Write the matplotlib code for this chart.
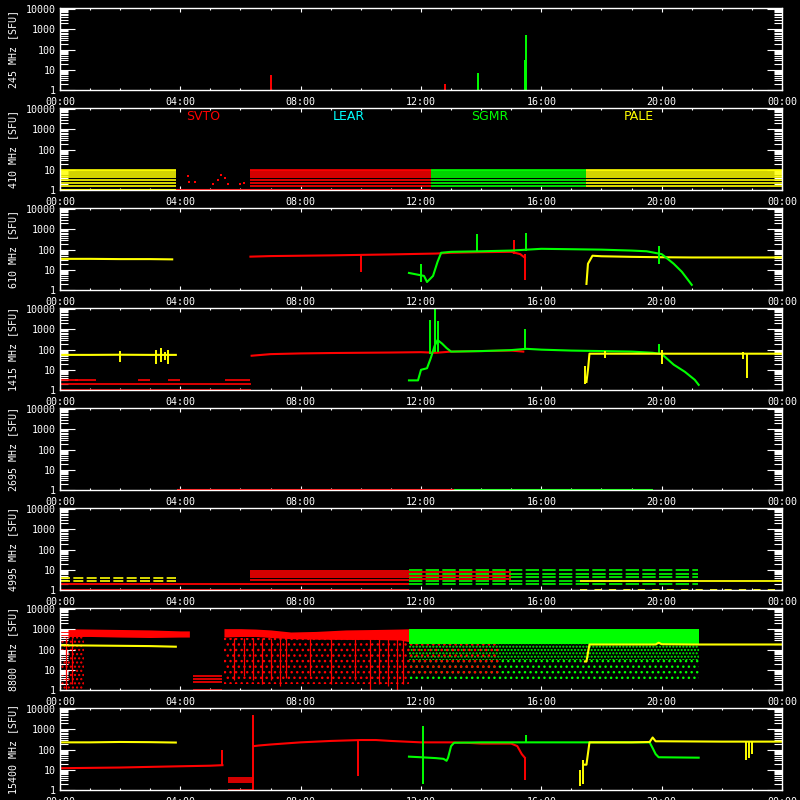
import numpy as np
import matplotlib
matplotlib.use("Agg")
import matplotlib.pyplot as plt
from matplotlib.ticker import LogLocator, MultipleLocator, NullFormatter, FixedLocator

plt.rcParams['font.family'] = ['DejaVu Sans Mono']
plt.rcParams['hatch.linewidth'] = 1.0

RED, YEL, GRN, CYN = '#ff0000', '#ffff00', '#00ff00', '#00ffff'

# ---------------- labels ----------------
FREQS = ['245', '410', '610', '1415', '2695', '4995', '8800', '15400']
XTICK_HOURS = [0, 4, 8, 12, 16, 20, 24]
XTICK_LABELS = ['00:00', '04:00', '08:00', '12:00', '16:00', '20:00', '00:00']
YTICKS = [1, 10, 100, 1000, 10000]
YTICK_LABELS = ['1', '10', '100', '1000', '10000']
STATIONS = ['SVTO', 'LEAR', 'SGMR', 'PALE']
STATION_HOUR = [4.77, 9.6, 14.27, 19.23]

# ---------------- 245 MHz ----------------
S245_RED_T = [7.0, 12.8]
S245_RED_V = [5.6, 2.0]
S245_GRN_T = [13.9, 15.45, 15.5]
S245_GRN_V = [7.0, 30.0, 550.0]

# ---------------- 410 MHz ----------------
B410_LEVELS = [10, 8.3, 7.0, 5.6, 4.3, 3.2, 2.2, 1.5]
B410_YEL1 = [0.0, 3.87]
B410_RED = [6.33, 12.33]
B410_GRN = [12.33, 17.5]
B410_YEL2 = [17.5, 24.0]
P410_RED_T = [4.25, 4.3, 4.5, 5.1, 5.25, 5.35, 5.5, 5.6, 6.0, 6.1]
P410_RED_V = [5.0, 2.5, 2.5, 2.0, 3.0, 5.5, 4.0, 2.0, 2.0, 2.3]

# ---------------- 610 MHz ----------------
Y610A_T = [0.0, 1.0, 2.0, 3.0, 3.73]
Y610A_V = [35, 35, 34, 34, 33]
R610_T = [6.33, 7.0, 8.0, 9.0, 10.0, 11.0, 12.0, 12.5, 13.0, 14.0, 15.0, 15.3, 15.45]
R610_V = [45, 48, 50, 52, 55, 58, 62, 64, 70, 75, 78, 60, 40]
G610_T = [11.6, 12.1, 12.2, 12.4, 12.55, 12.67, 13.0, 14.0, 15.0, 16.0, 17.0,
          18.0, 19.0, 19.5, 20.0, 20.1, 20.4, 20.67, 21.0]
G610_V = [7, 5, 2.5, 5, 25, 70, 78, 83, 90, 110, 105, 100, 90, 83, 60, 46, 20, 8, 1.8]
Y610B_T = [17.5, 17.55, 17.7, 18.0, 19.0, 20.0, 21.0, 22.0, 23.0, 24.0]
Y610B_V = [2, 20, 50, 47, 44, 42, 41, 41, 41, 41]
SP610_GRN_T = [12.0, 13.87, 15.5, 19.9]
SP610_GRN_V = [20, 600, 700, 150]
SP610_RED_T = [10.0, 15.1, 15.45]
SP610_RED_LO = [8, 60, 3]
SP610_RED_HI = [55, 300, 60]

# ---------------- 1415 MHz ----------------
Y1415A_T = [0.0, 1.0, 2.0, 3.0, 3.85]
Y1415A_V = [55, 55, 56, 55, 55]
SP1415_YEL_T = [2.0, 3.2, 3.35, 3.5, 3.6]
SP1415_YEL_LO = [25, 20, 25, 30, 20]
SP1415_YEL_HI = [90, 100, 120, 80, 100]
R1415_T = [6.37, 7.0, 8.0, 9.0, 10.0, 11.0, 12.0, 12.5, 13.0, 14.0, 15.0, 15.4]
R1415_V = [50, 60, 65, 68, 70, 72, 75, 70, 80, 85, 90, 80]
R1415_LOW_T0 = [0.0, 0.5, 2.6, 3.6, 5.5]
R1415_LOW_T1 = [0.6, 1.2, 3.0, 4.0, 6.3]
R1415_LOW_V = [3.2, 3.2, 3.2, 3.2, 3.2]
G1415_T = [11.6, 11.9, 12.0, 12.2, 12.33, 12.45, 12.55, 12.7, 12.85, 13.0, 14.0, 15.0,
           15.5, 16.0, 17.0, 18.0, 19.0, 19.7, 20.0, 20.1, 20.4, 20.77, 21.1, 21.23]
G1415_V = [3, 3, 10, 12, 40, 150, 300, 200, 120, 80, 85, 95, 110, 100, 90, 85, 80,
           70, 60, 45, 18, 8, 3.2, 1.8]
SP1415_GRN_T = [12.3, 12.45, 12.55, 15.45, 19.9]
SP1415_GRN_HI = [3000, 10000, 2500, 1000, 200]
Y1415B_T = [17.5, 17.55, 17.6, 18.0, 20.0, 22.0, 24.0]
Y1415B_V = [2.5, 10, 63, 63, 63, 63, 63]
SP1415_YEL2_T = [17.45, 18.1, 20.0, 22.7, 22.85]
SP1415_YEL2_LO = [2, 40, 20, 35, 4]
SP1415_YEL2_HI = [15, 90, 100, 80, 60]

# ---------------- 2695 MHz ----------------
B2695_RED = [3.9, 13.1]
B2695_GRN = [13.1, 19.7]

# ---------------- 4995 MHz ----------------
Y4995A_LEVELS = [3.8, 2.9]
Y4995A = [0.0, 3.87]
R4995_BASE = [0.0, 11.6]
R4995_BASE_V = 1.9
R4995_BAND = [6.33, 11.6]
R4995_LEVELS = [9.2, 7.3, 5.6, 4.3, 3.2]
R4995_MIX = [11.6, 15.0]
R4995_MIX_LEVELS = [8.0, 5.2, 3.4]
G4995_BAND = [11.6, 21.2]
G4995_LEVELS = [10, 6.5, 4.3, 2.7, 2.0]
Y4995B = [17.3, 24.0]
Y4995B_V = 2.9

# ---------------- 8800 MHz ----------------
R8800A_T = [0.0, 1.0, 2.0, 3.0, 4.0, 4.3]
R8800A_LO = [450, 450, 420, 400, 420, 420]
R8800A_HI = [1100, 1050, 1000, 950, 850, 850]
R8800B_T = [5.45, 6.0, 6.5, 7.0, 7.67, 8.5, 9.5, 10.5, 11.3, 11.8]
R8800B_LO = [420, 450, 450, 400, 350, 330, 320, 320, 300, 220]
R8800B_HI = [1100, 1100, 1050, 950, 750, 800, 950, 1000, 1050, 1100]
R8800_LOWBAND = [4.43, 5.4]
R8800_LOW_LEVELS = [5.0, 3.5, 2.5, 1.05]
R8800_SCAT_T = [0.0, 0.8]
R8800_SCAT2_T = [5.45, 11.6]
R8800_STREAK_T = [0.2, 0.4, 5.8, 6.1, 6.4, 6.7, 7.0, 7.3, 7.5, 8.3, 9.0, 9.8, 10.3, 10.6, 10.9, 11.2, 11.4]
R8800_STREAK_LO = [1, 2, 3, 5, 3, 2, 3, 1.5, 4, 5, 2, 3, 1, 2, 1.5, 1, 2]
G8800_T = [11.6, 21.23]
G8800_LO = 200
G8800_HI = 1100
G8800_SCAT1 = [30, 200]
G8800_SCAT2 = [3, 30]
R8800_MIX_T = [11.6, 14.6]
R8800_MIX = [5, 300]
Y8800A_T = [0.0, 1.0, 2.0, 3.0, 3.85]
Y8800A_V = [165, 160, 155, 150, 140]
Y8800B_T = [17.45, 17.5, 17.6, 18.0, 19.0, 19.8, 19.9, 20.0, 21.0, 22.0, 23.0, 24.0]
Y8800B_V = [26, 26, 180, 180, 180, 180, 220, 185, 180, 180, 180, 180]

# ---------------- 15400 MHz ----------------
Y15400A_T = [0.0, 1.0, 2.0, 3.0, 3.85]
Y15400A_V = [230, 230, 240, 235, 225]
R15400A_T = [0.0, 1.0, 2.0, 3.0, 4.0, 5.0, 5.4]
R15400A_V = [12, 12.5, 13, 14, 15, 16, 17]
R15400_LOWBAND = [5.6, 6.4]
R15400_LOW_LEVELS = [4.0, 3.0, 2.5, 1.05]
R15400B_T = [6.45, 6.6, 7.0, 8.0, 9.0, 10.0, 10.5, 11.0, 12.0, 13.0, 13.5, 14.0, 15.0, 15.2, 15.35, 15.45]
R15400B_V = [150, 160, 180, 230, 270, 300, 300, 270, 230, 230, 220, 200, 200, 150, 60, 40]
SP15400_RED_T = [5.4, 6.4, 9.9, 15.45]
SP15400_RED_LO = [17, 1, 5, 3]
SP15400_RED_HI = [100, 5000, 300, 40]
G15400_T = [11.6, 12.0, 12.5, 12.75, 12.85, 12.9, 13.0, 13.1, 14.0, 15.0, 16.0, 17.0,
            18.0, 19.0, 19.6, 19.7, 19.8, 19.9, 21.23]
G15400_V = [45, 42, 38, 35, 28, 40, 150, 220, 230, 230, 230, 230, 230, 230, 230,
            120, 60, 42, 40]
SP15400_GRN_T = [12.05, 15.5]
SP15400_GRN_LO = [2, 230]
SP15400_GRN_HI = [1500, 560]
Y15400B_T = [17.45, 17.5, 17.6, 18.0, 19.0, 19.6, 19.7, 19.8, 20.0, 21.0, 22.0, 23.0, 24.0]
Y15400B_V = [18, 18, 230, 230, 230, 240, 400, 260, 260, 255, 250, 250, 250]
SP15400_YEL_T = [17.3, 17.4, 22.8, 22.9, 23.0]
SP15400_YEL_LO = [1.5, 2, 30, 40, 60]
SP15400_YEL_HI = [10, 30, 250, 250, 250]

LW = 1.5
BASE = 1.05

fig = plt.figure(figsize=(8, 8), dpi=100, facecolor='black')
axes = []
for i, f in enumerate(FREQS):
    bot = 90 + 100 * i
    ax = fig.add_axes([60 / 800, 1 - bot / 800, 722 / 800, 82 / 800], facecolor='black')
    ax.set_xlim(0, 24)
    ax.set_yscale('log')
    ax.set_ylim(1, 11600)
    for s in ax.spines.values():
        s.set_color('white')
        s.set_linewidth(1.0)
        s.set_zorder(5)
    ax.xaxis.set_major_locator(FixedLocator(XTICK_HOURS))
    ax.set_xticklabels(XTICK_LABELS)
    ax.xaxis.set_minor_locator(MultipleLocator(1))
    ax.yaxis.set_major_locator(FixedLocator(YTICKS))
    ax.set_yticklabels(YTICK_LABELS)
    ax.yaxis.set_minor_locator(LogLocator(base=10, subs=np.arange(2, 10), numticks=20))
    ax.yaxis.set_minor_formatter(NullFormatter())
    ax.tick_params(axis='x', which='major', direction='in', length=3, width=0.8,
                   color='white', top=True, bottom=True, labelcolor='white',
                   labelsize=7.2, pad=5)
    ax.tick_params(axis='x', which='minor', direction='in', length=1.5, width=0.8,
                   color='white', top=True, bottom=True)
    ax.tick_params(axis='y', which='major', direction='in', length=11, width=0.8,
                   color='white', left=True, right=True, labelcolor='white',
                   labelsize=7.2, pad=3)
    ax.tick_params(axis='y', which='minor', direction='in', length=5.5, width=0.8,
                   color='white', left=True, right=True)
    fig.text(13 / 800, 1 - (bot - 41) / 800, f'{f} MHz [SFU]', color='white',
             rotation=90, ha='center', va='center', fontsize=7.2)
    axes.append(ax)


def bands(ax, span, levels, color, ls='-'):
    ax.hlines(levels, span[0], span[1], colors=color, lw=1.2, linestyles=ls, zorder=2)


def spikes(ax, t, lo, hi, color, lw=1.4):
    ax.vlines(t, lo, hi, colors=color, lw=lw, zorder=3)


# 245
ax = axes[0]
spikes(ax, S245_RED_T, [1] * len(S245_RED_T), S245_RED_V, RED)
spikes(ax, S245_GRN_T, [1] * len(S245_GRN_T), S245_GRN_V, GRN)

# 410
ax = axes[1]
bands(ax, B410_YEL1, B410_LEVELS, YEL)
bands(ax, B410_RED, B410_LEVELS, RED)
bands(ax, B410_GRN, B410_LEVELS, GRN)
bands(ax, B410_YEL2, B410_LEVELS, YEL)
ax.hlines(BASE, B410_YEL1[1], B410_RED[1], colors=RED, lw=LW)
ax.hlines(BASE, B410_YEL1[0], B410_YEL1[1], colors=YEL, lw=LW)
ax.plot(P410_RED_T, P410_RED_V, 's', color=RED, ms=2, mew=0)
for name, col, hr in zip(STATIONS, [RED, CYN, GRN, YEL], STATION_HOUR):
    ax.text(hr, 4300, name, color=col, ha='center', va='center', fontsize=9,
            family='DejaVu Sans')

# 610
ax = axes[2]
ax.plot(Y610A_T, Y610A_V, color=YEL, lw=LW)
ax.plot(R610_T, R610_V, color=RED, lw=LW)
spikes(ax, SP610_RED_T, SP610_RED_LO, SP610_RED_HI, RED)
ax.plot(G610_T, G610_V, color=GRN, lw=LW, zorder=3)
spikes(ax, SP610_GRN_T, np.array(SP610_GRN_V) / 8, SP610_GRN_V, GRN)
ax.plot(Y610B_T, Y610B_V, color=YEL, lw=LW, zorder=2.5)

# 1415
ax = axes[3]
ax.plot(Y1415A_T, Y1415A_V, color=YEL, lw=LW)
spikes(ax, SP1415_YEL_T, SP1415_YEL_LO, SP1415_YEL_HI, YEL)
ax.hlines(R1415_LOW_V, R1415_LOW_T0, R1415_LOW_T1, colors=RED, lw=1.2)
ax.hlines([1.9, BASE], 0, 6.35, colors=RED, lw=1.2)
ax.plot(R1415_T, R1415_V, color=RED, lw=LW)
ax.plot(G1415_T, G1415_V, color=GRN, lw=LW, zorder=3)
spikes(ax, SP1415_GRN_T, [60, 80, 80, 100, 60], SP1415_GRN_HI, GRN)
ax.plot(Y1415B_T, Y1415B_V, color=YEL, lw=LW, zorder=3.5)
spikes(ax, SP1415_YEL2_T, SP1415_YEL2_LO, SP1415_YEL2_HI, YEL)

# 2695
ax = axes[4]
ax.hlines(BASE, B2695_RED[0], B2695_RED[1], colors=RED, lw=LW)
ax.hlines(BASE, B2695_GRN[0], B2695_GRN[1], colors=GRN, lw=LW)

# 4995
ax = axes[5]
bands(ax, Y4995A, Y4995A_LEVELS, YEL, ls=(0, (6, 2)))
ax.hlines([R4995_BASE_V, BASE], R4995_BASE[0], R4995_BASE[1], colors=RED, lw=1.3)
bands(ax, R4995_BAND, R4995_LEVELS, RED)
bands(ax, G4995_BAND, G4995_LEVELS, GRN, ls=(0, (8, 2)))
bands(ax, R4995_MIX, R4995_MIX_LEVELS, RED)
ax.hlines(Y4995B_V, Y4995B[0], Y4995B[1], colors=YEL, lw=1.3, zorder=3)
ax.hlines(BASE, Y4995B[0], Y4995B[1], colors=YEL, lw=1.3, linestyles=(0, (4, 4)))

# 8800
ax = axes[6]
ax.fill_between(R8800_SCAT_T, 1, 450, facecolor='none', edgecolor=RED, hatch='....', lw=0)
ax.fill_between(R8800_SCAT2_T, 2, 400, facecolor='none', edgecolor=RED, hatch='...', lw=0)
spikes(ax, R8800_STREAK_T, R8800_STREAK_LO, [400] * len(R8800_STREAK_T), RED, lw=0.9)
ax.fill_between(R8800A_T, R8800A_LO, R8800A_HI, color=RED, lw=0)
ax.fill_between(R8800B_T, R8800B_LO, R8800B_HI, color=RED, lw=0)
bands(ax, R8800_LOWBAND, R8800_LOW_LEVELS, RED)
ax.fill_between(G8800_T, G8800_SCAT2[0], G8800_SCAT2[1], facecolor='none',
                edgecolor=GRN, hatch='...', lw=0)
ax.fill_between(G8800_T, G8800_SCAT1[0], G8800_SCAT1[1], facecolor='none',
                edgecolor=GRN, hatch='.....', lw=0)
ax.fill_between(R8800_MIX_T, R8800_MIX[0], R8800_MIX[1], facecolor='none',
                edgecolor=RED, hatch='...', lw=0)
ax.fill_between(G8800_T, G8800_LO, G8800_HI, color=GRN, lw=0)
ax.plot(Y8800A_T, Y8800A_V, color=YEL, lw=LW, zorder=3)
ax.plot(Y8800B_T, Y8800B_V, color=YEL, lw=LW, zorder=3)

# 15400
ax = axes[7]
ax.plot(Y15400A_T, Y15400A_V, color=YEL, lw=LW)
ax.plot(R15400A_T, R15400A_V, color=RED, lw=LW)
bands(ax, R15400_LOWBAND, R15400_LOW_LEVELS, RED)
ax.plot(R15400B_T, R15400B_V, color=RED, lw=LW)
spikes(ax, SP15400_RED_T, SP15400_RED_LO, SP15400_RED_HI, RED)
ax.plot(G15400_T, G15400_V, color=GRN, lw=LW, zorder=3)
spikes(ax, SP15400_GRN_T, SP15400_GRN_LO, SP15400_GRN_HI, GRN)
ax.plot(Y15400B_T, Y15400B_V, color=YEL, lw=LW, zorder=3.5)
spikes(ax, SP15400_YEL_T, SP15400_YEL_LO, SP15400_YEL_HI, YEL)

fig.savefig('out.png', dpi=100, facecolor='black')
